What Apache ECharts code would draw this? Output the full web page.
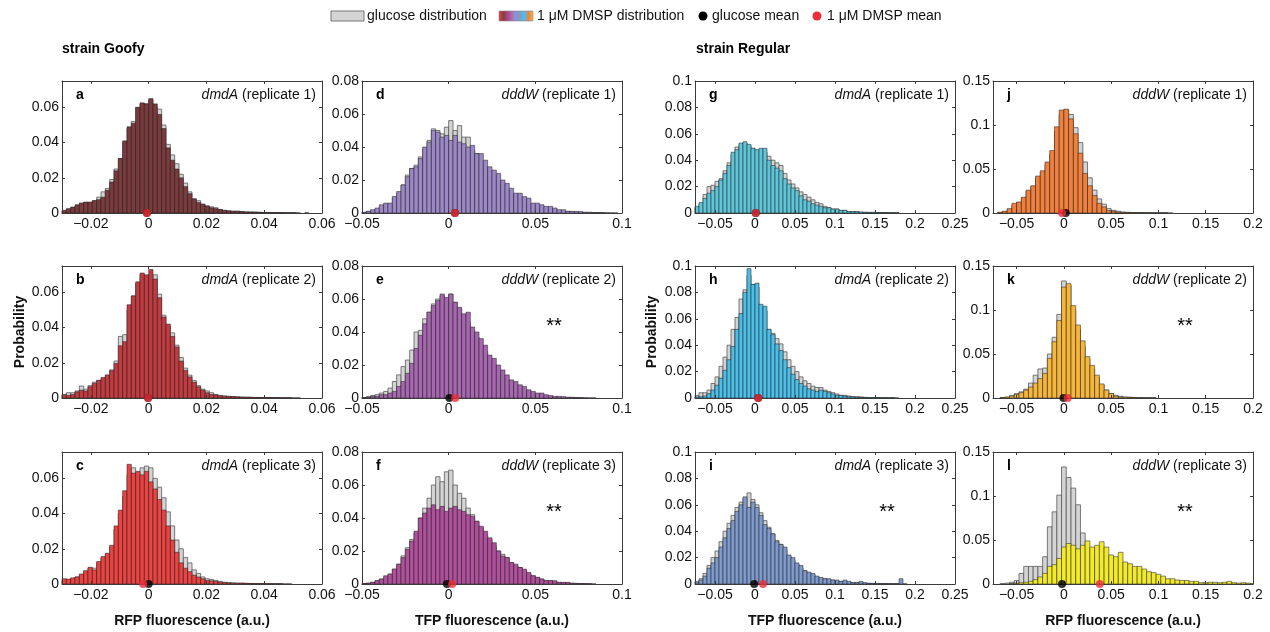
<!DOCTYPE html>
<html><head><meta charset="utf-8">
<script src="https://cdn.jsdelivr.net/npm/echarts@6/dist/echarts.min.js"></script>
<style>html,body{margin:0;padding:0;background:#fff}#c{width:1270px;height:632px}</style>
</head><body><div id="c"></div>
<script>
// ---------------- DATA ----------------
const panelIds = ['a','b','c','d','e','f','g','h','i','j','k','l'];
const panelGene = ['dmdA','dmdA','dmdA','dddW','dddW','dddW','dmdA','dmdA','dmdA','dddW','dddW','dddW'];
const panelReplicate = [1,2,3,1,2,3,1,2,3,1,2,3];
const panelSignificant = [false,false,false,false,true,true,false,false,true,false,true,true];
const strainTitles = ['strain Goofy', 'strain Regular'];
const xAxisTitles = ['RFP fluorescence (a.u.)','TFP fluorescence (a.u.)','TFP fluorescence (a.u.)','RFP fluorescence (a.u.)'];
const yAxisTitle = 'Probability';
const legendLabels = ['glucose distribution','1 \u03bcM DMSP distribution','glucose mean','1 \u03bcM DMSP mean'];

const xTicksGoofyRFP = [-0.02, 0, 0.02, 0.04, 0.06];
const xTicksGoofyTFP = [-0.05, 0, 0.05, 0.1];
const xTicksRegularTFP = [-0.05, 0, 0.05, 0.1, 0.15, 0.2, 0.25];
const xTicksRegularRFP = [-0.05, 0, 0.05, 0.1, 0.15, 0.2];
const yTicksCol1 = [0, 0.02, 0.04, 0.06];
const yTicksCol2 = [0, 0.02, 0.04, 0.06, 0.08];
const yTicksCol3 = [0, 0.02, 0.04, 0.06, 0.08, 0.1];
const yTicksCol4 = [0, 0.05, 0.1, 0.15];
const xRangeCols = [[-0.03, 0.06], [-0.05, 0.1], [-0.075, 0.25], [-0.075, 0.2]];
const yMaxCols = [0.075, 0.08, 0.1, 0.15];

const binStart = [-0.03,-0.03,-0.03, -0.055,-0.055,-0.055, -0.075,-0.075,-0.075, -0.075,-0.0775,-0.0775];
const binWidth = [0.0015,0.0015,0.0015, 0.0025,0.0025,0.0025, 0.005,0.005,0.005, 0.005,0.005,0.005];

const glucoseMean = [-0.0006,-0.0002,0, 0.0036,0.0004,-0.001, 0.001,0.004,-0.001, 0.002,-0.0005,-0.002];
const dmspMean    = [-0.0006,-0.0002,-0.0019, 0.0036,0.0038,0.002, 0.001,0.004,0.01, -0.002,0.004,0.038];

// panel a
const gluA = [0.001,0.002,0.003,0.004,0.005,0.006,0.006,0.007,0.009,0.012,0.014,0.019,0.025,0.031,0.040,0.048,0.052,0.060,0.062,0.062,
 0.064,0.060,0.059,0.050,0.039,0.033,0.028,0.022,0.017,0.012,0.008,0.007,0.005,0.004,0.0035,0.003,0.002,0.0015,0.0012,0.001,
 0.001,0.0008,0.0006,0.0005,0.0005,0.0004,0.0003,0.0003,0.0002,0.0002,0.0002,0.0001,0.0001,0.0001,0,0,0,0,0,0];
const dmspA = [0.0015,0.0025,0.0034,0.0047,0.0057,0.0062,0.0062,0.007,0.0076,0.009,0.013,0.0176,0.024,0.031,0.041,0.049,0.051,0.060,0.0626,0.062,
 0.065,0.062,0.056,0.048,0.037,0.030,0.025,0.020,0.015,0.011,0.008,0.006,0.005,0.004,0.003,0.0025,0.002,0.0015,0.0012,0.001,
 0.001,0.0008,0.0006,0.0006,0.0005,0.0004,0.0003,0.0003,0.0002,0.0002,0.0002,0.0001,0.0001,0.0001,0.0001,0,0.0001,0,0,0];
// panel b
const gluB = [0.0015,0.003,0.003,0.004,0.0068,0.005,0.007,0.009,0.010,0.011,0.013,0.016,0.021,0.035,0.036,0.050,0.058,0.065,0.070,0.068,
 0.070,0.070,0.059,0.047,0.041,0.037,0.030,0.023,0.017,0.013,0.010,0.007,0.005,0.004,0.003,0.002,0.0015,0.0012,0.001,0.0008,
 0.0007,0.0005,0.0005,0.0004,0.0003,0.0003,0.0002,0.0002,0.0002,0.0001,0.0001,0.0001,0.0001,0,0,0,0,0,0,0];
const dmspB = [0.002,0.0015,0.002,0.0035,0.0045,0.004,0.0064,0.0083,0.010,0.0117,0.013,0.0155,0.0196,0.0297,0.032,0.053,0.058,0.066,0.071,0.070,
 0.073,0.0676,0.057,0.046,0.042,0.035,0.029,0.021,0.0157,0.012,0.009,0.0064,0.0045,0.003,0.002,0.0017,0.0013,0.001,0.0008,0.0008,
 0.0006,0.0005,0.0004,0.0004,0.0003,0.0003,0.0003,0.0002,0.0002,0.0002,0.0001,0.0001,0.0001,0.0001,0.0001,0,0,0,0,0];
// panel c
const gluC = [0.002,0.0025,0.003,0.004,0.005,0.007,0.009,0.009,0.012,0.015,0.017,0.021,0.031,0.040,0.050,0.062,
 0.066,0.063,0.066,0.067,0.066,0.060,0.055,0.049,0.041,0.033,0.025,0.020,0.015,0.012,0.008,0.006,0.004,0.003,0.0025,0.002,0.0015,0.001,0.0008,0.0006,
 0.0005,0.0005,0.0004,0.0003,0.0003,0.0002,0.0002,0.0002,0.0001,0.0001,0.0001,0.0001,0,0,0,0,0,0,0,0];
const dmspC = [0.003,0.0028,0.0035,0.004,0.0057,0.0076,0.0095,0.008,0.0128,0.0156,0.0175,0.022,0.033,0.042,0.053,0.068,
 0.063,0.064,0.062,0.064,0.058,0.054,0.048,0.042,0.033,0.025,0.018,0.012,0.009,0.007,0.005,0.004,0.003,0.002,0.0018,0.0014,0.001,0.0008,0.0006,0.0005,
 0.0004,0.0004,0.0003,0.0003,0.0002,0.0002,0.0002,0.0001,0.0001,0.0001,0.0001,0,0.0001,0,0,0,0,0,0,0];
// panel d
const gluD = [0,0,0.0003,0.001,0.0015,0.002,0.004,0.005,0.005,0.009,0.012,0.017,0.023,0.027,0.029,0.034,0.039,0.044,0.051,0.050,0.048,0.052,0.056,0.050,0.053,0.046,0.046,0.038,0.036,0.031,0.028,0.025,0.023,0.019,0.016,0.014,0.011,0.010,0.009,0.007,0.006,0.005,0.004,0.003,0.003,0.002,0.002,0.001,0.001,0.001,0.0008,0.0005,0.0004,0.0003,0.0002,0.0002,0.0001,0.0001,0,0,0,0];
const dmspD = [0,0.0002,0.0005,0.001,0.002,0.003,0.005,0.006,0.006,0.010,0.013,0.017,0.022,0.027,0.028,0.033,0.040,0.043,0.050,0.049,0.046,0.047,0.044,0.047,0.043,0.042,0.040,0.041,0.036,0.036,0.032,0.028,0.026,0.024,0.020,0.018,0.015,0.012,0.012,0.010,0.009,0.006,0.006,0.005,0.004,0.004,0.003,0.002,0.002,0.001,0.001,0.001,0.0008,0.0005,0.0005,0.0003,0.0003,0.0002,0.0002,0.0001,0.0001,0];
// panel e
const gluE = [0,0,0.0003,0.0008,0.0015,0.002,0.003,0.004,0.006,0.010,0.014,0.019,0.023,0.029,0.040,0.041,0.048,0.052,0.057,0.060,0.062,0.060,0.063,0.058,0.054,0.050,0.046,0.041,0.037,0.032,0.028,0.024,0.020,0.016,0.013,0.011,0.009,0.007,0.006,0.004,0.003,0.003,0.002,0.0015,0.001,0.0008,0.0005,0.0004,0.0003,0.0002,0.0002,0.0001,0.0001,0,0,0,0,0,0,0,0,0];
const dmspE = [0,0,0.0002,0.0005,0.001,0.001,0.002,0.002,0.003,0.004,0.007,0.010,0.015,0.021,0.030,0.038,0.045,0.052,0.056,0.059,0.063,0.061,0.063,0.058,0.055,0.051,0.052,0.043,0.040,0.036,0.032,0.026,0.024,0.020,0.017,0.014,0.011,0.010,0.008,0.007,0.005,0.004,0.003,0.003,0.002,0.0015,0.001,0.001,0.0008,0.0005,0.0005,0.0003,0.0002,0.0002,0.0001,0.0001,0,0,0,0,0,0];
// panel f
const gluF = [0,0,0.0002,0.0005,0.001,0.002,0.003,0.004,0.006,0.009,0.012,0.017,0.022,0.027,0.031,0.040,0.046,0.052,0.060,0.065,0.062,0.068,0.069,0.060,0.055,0.052,0.046,0.042,0.038,0.034,0.030,0.027,0.023,0.020,0.018,0.016,0.013,0.011,0.010,0.008,0.006,0.005,0.004,0.003,0.002,0.002,0.001,0.001,0.0008,0.0005,0.0004,0.0003,0.0002,0.0001,0.0001,0,0,0,0,0,0,0];
const dmspF = [0,0,0.0003,0.0005,0.001,0.002,0.003,0.005,0.006,0.009,0.012,0.016,0.021,0.026,0.032,0.040,0.043,0.046,0.048,0.045,0.047,0.044,0.046,0.047,0.045,0.044,0.042,0.041,0.038,0.035,0.032,0.028,0.025,0.020,0.017,0.016,0.013,0.012,0.010,0.009,0.007,0.005,0.004,0.003,0.002,0.002,0.002,0.001,0.001,0.001,0.0005,0.0004,0.0003,0.0002,0.0001,0.0001,0,0,0,0,0,0];
// panel g
const gluG = [0.004,0.007,0.014,0.020,0.021,0.024,0.026,0.032,0.038,0.044,0.050,0.052,0.053,0.051,0.049,0.047,0.048,0.046,0.043,0.040,0.038,0.036,0.030,0.025,0.022,0.019,0.016,0.014,0.012,0.010,0.008,0.007,0.005,0.004,0.003,0.003,0.002,0.002,0.001,0.001,0.001,0.0005,0.0005,0.0004,0.0003,0.0003,0.0002,0.0002,0.0001,0.0001,0.0001,0,0,0,0,0,0,0,0,0,0,0,0,0,0];
const dmspG = [0.005,0.008,0.011,0.015,0.017,0.020,0.025,0.030,0.036,0.046,0.048,0.053,0.054,0.052,0.049,0.048,0.049,0.049,0.040,0.036,0.034,0.032,0.026,0.022,0.019,0.017,0.013,0.010,0.009,0.007,0.006,0.005,0.004,0.004,0.003,0.003,0.002,0.002,0.001,0.001,0.001,0.0008,0.0005,0.0005,0.0005,0.0003,0.0003,0.0002,0.0002,0.0001,0.0001,0,0,0,0,0,0,0,0,0,0,0,0,0,0];
// panel h
const gluH = [0.002,0.004,0.004,0.006,0.011,0.016,0.024,0.031,0.040,0.052,0.061,0.075,0.082,0.093,0.086,0.084,0.068,0.066,0.052,0.049,0.045,0.041,0.035,0.029,0.024,0.020,0.016,0.013,0.011,0.009,0.008,0.008,0.006,0.005,0.004,0.003,0.002,0.002,0.0015,0.001,0.001,0.0008,0.0005,0.0004,0.0003,0.0003,0.0002,0.0002,0.0001,0.0001,0.0001,0,0,0,0,0,0,0,0,0,0,0,0,0,0];
const dmspH = [0.0008,0.001,0.0015,0.0033,0.006,0.0097,0.015,0.021,0.029,0.039,0.052,0.064,0.080,0.098,0.086,0.087,0.071,0.0695,0.052,0.048,0.041,0.036,0.029,0.023,0.018,0.014,0.011,0.009,0.007,0.006,0.005,0.006,0.005,0.004,0.003,0.002,0.002,0.0015,0.001,0.0008,0.0005,0.0005,0.0004,0.0003,0.0003,0.0002,0.0002,0.0001,0.0001,0.0001,0,0,0,0,0,0,0,0,0,0,0,0,0,0,0];
// panel i
const gluI = [0.002,0.004,0.008,0.014,0.020,0.025,0.032,0.040,0.046,0.052,0.058,0.062,0.065,0.069,0.064,0.060,0.054,0.048,0.043,0.038,0.033,0.030,0.026,0.021,0.018,0.015,0.012,0.010,0.008,0.007,0.005,0.004,0.004,0.003,0.003,0.002,0.002,0.002,0.001,0.001,0.001,0.0008,0.0005,0.0005,0.0004,0.0003,0.0002,0.0002,0.0001,0.0001,0.0001,0,0,0,0,0,0,0,0,0,0,0,0,0,0];
const dmspI = [0.001,0.003,0.006,0.012,0.016,0.020,0.028,0.035,0.042,0.048,0.055,0.060,0.066,0.058,0.062,0.058,0.052,0.045,0.042,0.038,0.032,0.030,0.028,0.022,0.020,0.016,0.014,0.010,0.009,0.008,0.006,0.005,0.004,0.004,0.003,0.003,0.002,0.003,0.002,0.001,0.001,0.002,0.001,0.0005,0.0005,0.0005,0.0003,0.0003,0.0002,0.0002,0.0002,0.004,0.0002,0,0,0,0,0,0,0,0,0,0,0,0];
// panel j
const gluJ = [0,0.0005,0.0015,0.004,0.009,0.012,0.017,0.025,0.030,0.040,0.046,0.055,0.067,0.093,0.112,0.117,0.112,0.097,0.080,0.058,0.040,0.026,0.016,0.010,0.005,0.003,0.002,0.001,0.0008,0.0005,0.0004,0.0003,0.0002,0.0002,0.0001,0.0001,0.0001,0,0,0,0,0,0,0,0,0,0,0,0,0,0,0,0,0,0];
const dmspJ = [0,0.001,0.002,0.005,0.011,0.0125,0.018,0.026,0.031,0.042,0.048,0.058,0.071,0.098,0.117,0.118,0.107,0.090,0.068,0.045,0.031,0.020,0.011,0.007,0.003,0.002,0.001,0.0008,0.0005,0.0005,0.0003,0.0003,0.0002,0.0002,0.0001,0.0001,0.0001,0.0001,0,0,0,0,0,0,0,0,0,0,0,0,0,0,0,0,0];
// panel k
const gluK = [0,0,0.0005,0.001,0.003,0.005,0.007,0.010,0.017,0.026,0.033,0.034,0.050,0.069,0.095,0.133,0.128,0.100,0.078,0.058,0.044,0.033,0.023,0.015,0.009,0.005,0.003,0.002,0.001,0.001,0.0005,0.0005,0.0003,0.0002,0.0001,0,0,0,0,0,0,0,0,0,0,0,0,0,0,0,0,0,0,0,0,0];
const dmspK = [0,0,0.0003,0.001,0.002,0.004,0.006,0.009,0.0125,0.017,0.022,0.028,0.045,0.064,0.088,0.126,0.130,0.105,0.083,0.065,0.047,0.037,0.026,0.016,0.009,0.005,0.002,0.001,0.001,0.0005,0.0005,0.0003,0.0002,0.0001,0.0001,0,0,0,0,0,0,0,0,0,0,0,0,0,0,0,0,0,0,0,0,0];
// panel l
const gluL = [0,0,0.0005,0.001,0.002,0.004,0.012,0.020,0.020,0.020,0.020,0.031,0.065,0.082,0.101,0.133,0.121,0.109,0.090,0.058,0.040,0.030,0.022,0.016,0.012,0.009,0.007,0.005,0.004,0.003,0.002,0.002,0.001,0.001,0.0008,0.0005,0.0004,0.0003,0.0002,0.0002,0.0001,0.0001,0,0,0,0,0,0,0,0,0,0,0,0,0,0];
const dmspL = [0,0,0,0,0.0005,0.001,0.0015,0.002,0.003,0.005,0.008,0.012,0.020,0.022,0.029,0.042,0.046,0.044,0.040,0.044,0.049,0.042,0.044,0.048,0.042,0.033,0.031,0.036,0.025,0.023,0.020,0.020,0.017,0.014,0.013,0.011,0.009,0.006,0.006,0.0045,0.004,0.004,0.003,0.003,0.0015,0.0015,0.002,0.002,0.0015,0.002,0.003,0.0015,0.001,0.0015,0.001,0.0005];

const glucoseHist = [gluA,gluB,gluC,gluD,gluE,gluF,gluG,gluH,gluI,gluJ,gluK,gluL];
const dmspHist = [dmspA,dmspB,dmspC,dmspD,dmspE,dmspF,dmspG,dmspH,dmspI,dmspJ,dmspK,dmspL];
const xTicksCols = [xTicksGoofyRFP, xTicksGoofyTFP, xTicksRegularTFP, xTicksRegularRFP];
const yTicksCols = [yTicksCol1, yTicksCol2, yTicksCol3, yTicksCol4];

// ---------------- STYLE / LAYOUT ----------------
const panelColors = ['#7b3b3d','#c23b40','#ea4341','#9c88c6','#a766b0','#b0509d','#5fc6d9','#4cbfe9','#7f9bcd','#f2803d','#f6b63a','#f2ea2b'];
const glucoseFill = '#d4d4d4';
const colLeft = [62, 362, 695, 993];
const rowTop = [81, 266, 452];
const plotW = 260, plotH = 132;
const FONT = 'Liberation Sans, Arial, Helvetica, sans-serif';

function fmt(v) {
  const s = String(Math.round(v * 1000) / 1000);
  return s.replace('-', '\u2212');
}

function makeRender(fill, stroke, lw) {
  return function (params, api) {
    const x0 = api.value(0), x1 = api.value(1), v = api.value(2);
    if (!(v > 0)) return null;
    const p0 = api.coord([x0, v]);
    const p1 = api.coord([x1, 0]);
    const cs = params.coordSys;
    const r = echarts.graphic.clipRectByRect(
      { x: p0[0], y: p0[1], width: p1[0] - p0[0], height: p1[1] - p0[1] },
      { x: cs.x, y: cs.y, width: cs.width, height: cs.height });
    if (!r) return null;
    return { type: 'rect', shape: r, style: { fill: fill, stroke: stroke, lineWidth: lw } };
  };
}

const grids = [], xAxes = [], yAxes = [], series = [], graphics = [];
panelIds.forEach(function (id, i) {
  const col = Math.floor(i / 3), row = i % 3;
  const left = colLeft[col], top = rowTop[row];
  grids.push({ left: left, top: top, width: plotW, height: plotH, show: false });
  const xr = xRangeCols[col], xt = xTicksCols[col], yt = yTicksCols[col];
  const lineC = '#3a3a3a';
  const common = { type: 'value', gridIndex: i, splitLine: { show: false }, z: 6,
    axisLine: { show: true, onZero: false, lineStyle: { color: lineC, width: 1 } } };
  xAxes.push(Object.assign({}, common, { position: 'bottom', min: xr[0], max: xr[1],
    axisTick: { show: true, inside: true, length: 3, customValues: xt, lineStyle: { color: lineC } },
    axisLabel: { show: true, customValues: xt, formatter: fmt, color: '#111', fontSize: 14, fontFamily: FONT, margin: 4 } }));
  xAxes.push(Object.assign({}, common, { position: 'top', min: xr[0], max: xr[1],
    axisTick: { show: true, inside: true, length: 3, customValues: xt, lineStyle: { color: lineC } },
    axisLabel: { show: false } }));
  yAxes.push(Object.assign({}, common, { position: 'left', min: 0, max: yMaxCols[col],
    axisTick: { show: true, inside: true, length: 3, customValues: yt, lineStyle: { color: lineC } },
    axisLabel: { show: true, customValues: yt, formatter: fmt, color: '#111', fontSize: 14, fontFamily: FONT, margin: 3 } }));
  yAxes.push(Object.assign({}, common, { position: 'right', min: 0, max: yMaxCols[col],
    axisTick: { show: true, inside: true, length: 3, customValues: yt, lineStyle: { color: lineC } },
    axisLabel: { show: false } }));
  const s = binStart[i], w = binWidth[i];
  const gData = glucoseHist[i].map(function (v, k) { return [s + k * w, s + (k + 1) * w, v]; });
  const dData = dmspHist[i].map(function (v, k) { return [s + k * w, s + (k + 1) * w, v]; });
  series.push({ type: 'custom', xAxisIndex: 2 * i, yAxisIndex: 2 * i, z: 2, silent: true,
    renderItem: makeRender(glucoseFill, '#5a5a5a', 0.8), encode: { x: [0, 1], y: 2 }, data: gData });
  series.push({ type: 'custom', xAxisIndex: 2 * i, yAxisIndex: 2 * i, z: 3, silent: true,
    renderItem: makeRender(panelColors[i], 'rgba(30,30,30,0.85)', 0.6), encode: { x: [0, 1], y: 2 }, data: dData });
  series.push({ type: 'scatter', xAxisIndex: 2 * i, yAxisIndex: 2 * i, z: 8, clip: false, silent: true,
    symbolSize: 8, itemStyle: { color: '#000' }, data: [[glucoseMean[i], 0]] });
  series.push({ type: 'scatter', xAxisIndex: 2 * i, yAxisIndex: 2 * i, z: 9, clip: false, silent: true,
    symbolSize: 8, itemStyle: { color: '#ec2f3a' }, data: [[dmspMean[i], 0]] });

  graphics.push({ type: 'text', x: left + 14, y: top + 14, z: 20,
    style: { text: id, font: 'bold 14px ' + FONT, fill: '#000', align: 'left', verticalAlign: 'middle' } });
  graphics.push({ type: 'text', x: left + plotW - 6, y: top + 14, z: 20,
    style: { text: '{g|' + panelGene[i] + '} (replicate ' + panelReplicate[i] + ')',
      font: '14px ' + FONT, fill: '#111', align: 'right', verticalAlign: 'middle',
      rich: { g: { fontStyle: 'italic', fontSize: 14, fontFamily: FONT, fill: '#111' } } } });
  if (panelSignificant[i]) {
    graphics.push({ type: 'text', x: left + 192, y: top + 60, z: 20,
      style: { text: '**', font: '20px ' + FONT, fill: '#000', align: 'center', verticalAlign: 'middle' } });
  }
});

// titles
graphics.push({ type: 'text', x: 62, y: 49, style: { text: strainTitles[0], font: 'bold 14px ' + FONT, fill: '#000', verticalAlign: 'middle' } });
graphics.push({ type: 'text', x: 696, y: 49, style: { text: strainTitles[1], font: 'bold 14px ' + FONT, fill: '#000', verticalAlign: 'middle' } });
// axis titles
xAxisTitles.forEach(function (t, c) {
  graphics.push({ type: 'text', x: colLeft[c] + plotW / 2, y: 621,
    style: { text: t, font: 'bold 14px ' + FONT, fill: '#111', align: 'center', verticalAlign: 'middle' } });
});
[20, 652].forEach(function (x) {
  graphics.push({ type: 'text', x: x, y: 332, rotation: Math.PI / 2,
    style: { text: yAxisTitle, font: 'bold 14px ' + FONT, fill: '#111', align: 'center', verticalAlign: 'middle' } });
});
// legend
const ly = 16;
graphics.push({ type: 'rect', shape: { x: 331, y: ly - 5, width: 33, height: 10 }, style: { fill: glucoseFill, stroke: '#777', lineWidth: 1 } });
graphics.push({ type: 'text', x: 367, y: ly, style: { text: legendLabels[0], font: '14px ' + FONT, fill: '#111', verticalAlign: 'middle' } });
graphics.push({ type: 'rect', shape: { x: 499, y: ly - 5, width: 34, height: 10 },
  style: { stroke: '#888', lineWidth: 0.6, fill: new echarts.graphic.LinearGradient(0, 0, 1, 0, [
    { offset: 0, color: '#e8403f' }, { offset: 0.14, color: '#8a3a45' }, { offset: 0.3, color: '#b0509d' },
    { offset: 0.45, color: '#9c88c6' }, { offset: 0.6, color: '#7f9bcd' }, { offset: 0.74, color: '#4cbfe9' },
    { offset: 0.88, color: '#f2803d' }, { offset: 1, color: '#f6c03a' }]) } });
graphics.push({ type: 'text', x: 537, y: ly, style: { text: legendLabels[1], font: '14px ' + FONT, fill: '#111', verticalAlign: 'middle' } });
graphics.push({ type: 'circle', shape: { cx: 703, cy: ly, r: 4.5 }, style: { fill: '#000' } });
graphics.push({ type: 'text', x: 712, y: ly, style: { text: legendLabels[2], font: '14px ' + FONT, fill: '#111', verticalAlign: 'middle' } });
graphics.push({ type: 'circle', shape: { cx: 817, cy: ly, r: 4.5 }, style: { fill: '#ec2f3a' } });
graphics.push({ type: 'text', x: 827, y: ly, style: { text: legendLabels[3], font: '14px ' + FONT, fill: '#111', verticalAlign: 'middle' } });

const chart = echarts.init(document.getElementById('c'), null, { renderer: 'canvas' });
chart.setOption({
  animation: false,
  backgroundColor: '#fff',
  textStyle: { fontFamily: FONT },
  grid: grids, xAxis: xAxes, yAxis: yAxes, series: series, graphic: graphics
});
</script></body></html>
